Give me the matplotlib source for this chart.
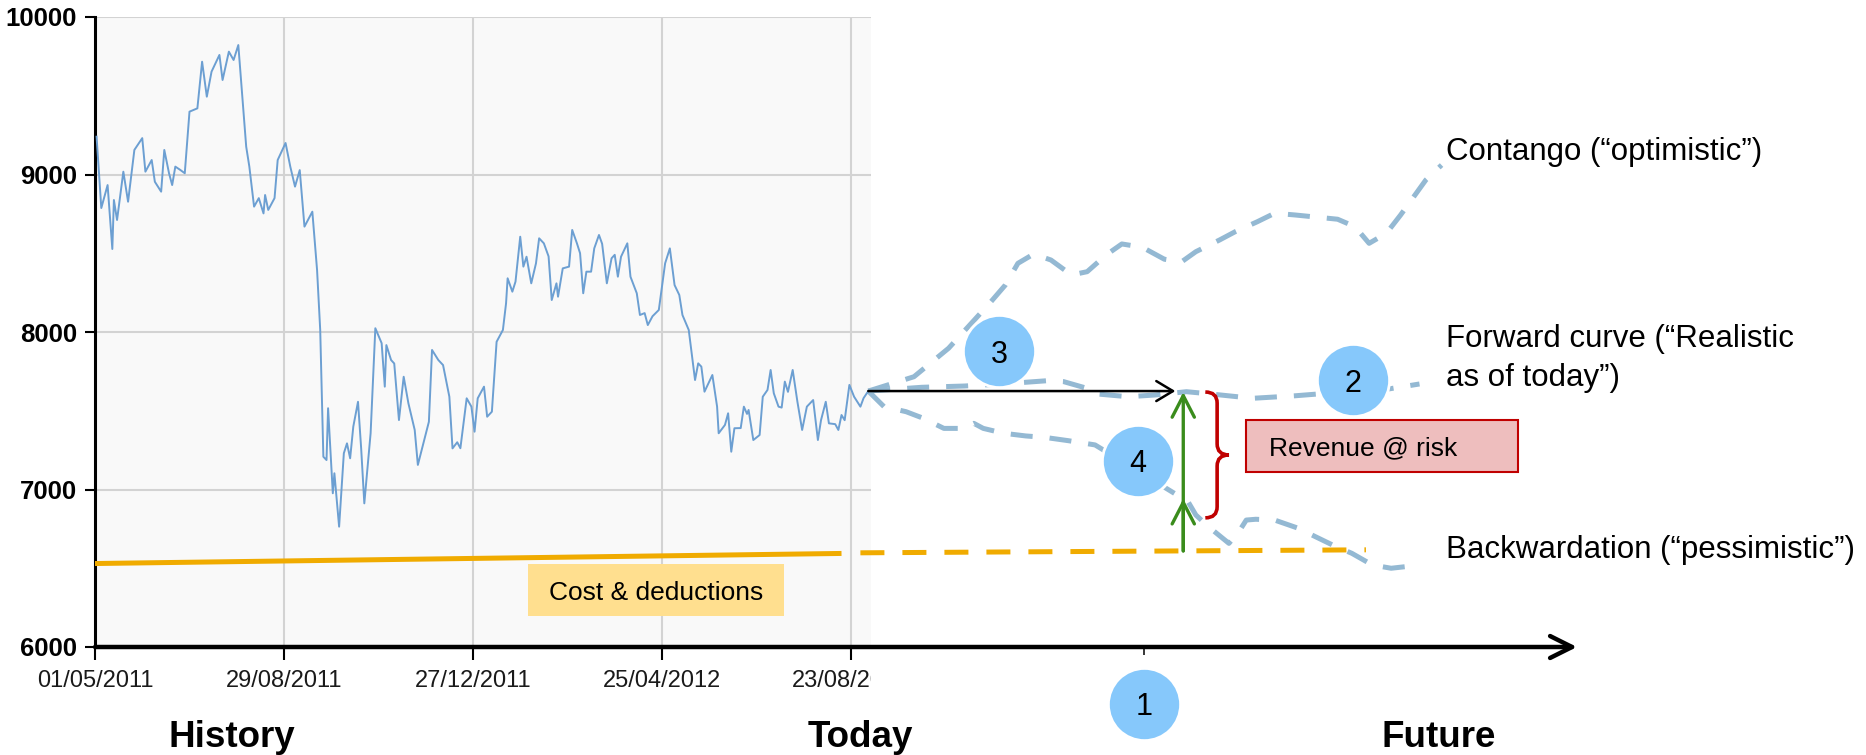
"""Copper spot price history with forward-curve scenarios and revenue at risk."""

import matplotlib

matplotlib.use("Agg")
import matplotlib.pyplot as plt
import numpy as np
import pandas as pd
from matplotlib import font_manager
from matplotlib.patches import PathPatch, Rectangle
from matplotlib.path import Path
from matplotlib.transforms import Bbox, TransformedBbox

START_DATE = pd.Timestamp("2011-05-01")

# spot price, days counted from START_DATE
HISTORY_DAY = [
    1, 4, 8, 11, 12, 14, 18, 21, 25, 30,
    32, 36, 38, 42, 44, 47, 49, 51, 54, 57,
    60, 65, 68, 71, 74, 79, 81, 85, 88, 91,
    96, 98, 101, 104, 107, 108, 110, 114, 116, 121,
    124, 127, 130, 133, 138, 141, 143, 145, 147, 148,
    151, 152, 155, 158, 160, 162, 164, 167, 169, 171,
    175, 178, 182, 184, 185, 188, 190, 193, 196, 199,
    203, 205, 212, 214, 218, 221, 225, 227, 230, 232,
    236, 239, 241, 243, 247, 249, 252, 255, 259, 261,
    262, 265, 267, 270, 272, 274, 277, 280, 282, 285,
    288, 290, 293, 294, 297, 301, 303, 306, 308, 310,
    312, 315, 317, 320, 322, 325, 328, 330, 332, 334,
    338, 340, 344, 346, 349, 351, 354, 358, 362, 365,
    368, 371, 373, 377, 381, 383, 385, 387, 392, 395,
    396, 400, 402, 404, 406, 410, 412, 414, 415, 418,
    422, 424, 427, 429, 431, 434, 436, 438, 440, 443,
    446, 449, 452, 456, 459, 461, 464, 466, 470, 472,
    474, 476, 479, 482, 486, 488, 491,
]
HISTORY_PRICE = [
    9240, 8787, 8933, 8527, 8838, 8711, 9018, 8827, 9156, 9231,
    9018, 9092, 8954, 8891, 9156, 9008, 8933, 9050, 9030, 9008,
    9399, 9420, 9716, 9494, 9653, 9759, 9600, 9780, 9727, 9822,
    9177, 9050, 8796, 8850, 8753, 8870, 8775, 8850, 9092, 9200,
    9050, 8923, 9028, 8669, 8764, 8394, 8013, 7208, 7187, 7516,
    6976, 7103, 6764, 7230, 7293, 7198, 7399, 7557, 7261, 6912,
    7357, 8024, 7929, 7653, 7917, 7822, 7800, 7441, 7716, 7547,
    7378, 7156, 7430, 7886, 7822, 7790, 7589, 7261, 7300, 7262,
    7579, 7526, 7367, 7579, 7653, 7462, 7494, 7938, 8013, 8182,
    8341, 8256, 8320, 8605, 8415, 8478, 8309, 8436, 8595, 8563,
    8480, 8203, 8309, 8224, 8404, 8415, 8648, 8563, 8500, 8246,
    8383, 8383, 8531, 8616, 8560, 8309, 8468, 8490, 8351, 8478,
    8563, 8351, 8246, 8108, 8120, 8044, 8100, 8140, 8436, 8531,
    8298, 8235, 8108, 8013, 7695, 7801, 7780, 7621, 7727, 7526,
    7357, 7410, 7484, 7240, 7389, 7390, 7526, 7480, 7505, 7314,
    7346, 7589, 7632, 7759, 7611, 7526, 7520, 7685, 7620, 7759,
    7557, 7378, 7526, 7568, 7314, 7441, 7557, 7420, 7415, 7378,
    7473, 7440, 7664, 7589, 7526, 7580, 7625,
]

# cost & deductions level: realised, then outlook
COST_HIST_DAY = [0, 474]
COST_HIST_PRICE = [6530, 6594]
COST_FWD_DAY = [486, 807]
COST_FWD_PRICE = [6598, 6617]

# forward scenarios from today
CONTANGO_DAY = [491, 520, 542, 568, 578, 586, 596, 607, 620, 630, 642, 652, 665,
                679, 690, 699, 714, 724, 738, 749, 762, 789, 800, 809, 820, 829,
                845, 855]
CONTANGO_PRICE = [7625, 7716, 7897, 8182, 8298, 8436, 8495, 8457, 8362, 8383, 8489,
                  8559, 8538, 8462, 8446, 8510, 8584, 8637, 8700, 8754, 8743, 8716,
                  8669, 8563, 8627, 8743, 8965, 9060]
FORWARD_DAY = [491, 525, 552, 576, 605, 615, 630, 637, 656, 673, 693, 709, 735,
               762, 795, 820, 841]
FORWARD_PRICE = [7625, 7649, 7657, 7670, 7691, 7685, 7642, 7606, 7589, 7600, 7621,
                 7606, 7579, 7595, 7621, 7636, 7670]
BACKWARD_DAY = [491, 501, 515, 526, 539, 551, 558, 564, 577, 591, 603, 618, 635,
                694, 699, 707, 720, 727, 731, 737, 749, 764, 775, 788, 798, 811,
                823, 832]
BACKWARD_PRICE = [7625, 7526, 7494, 7452, 7388, 7388, 7420, 7388, 7357, 7340, 7331,
                  7310, 7283, 6923, 6838, 6764, 6658, 6743, 6806, 6811, 6806, 6754,
                  6700, 6637, 6595, 6521, 6500, 6510]

Y_TICKS = [6000, 7000, 8000, 9000, 10000]
DATE_TICK_DAY = [0, 120, 240, 360, 480]

TODAY_DAY = 491
TODAY_PRICE = 7625
PLOT_END_DAY = 493
HORIZON_DAY = 691
HORIZON_TICK_DAY = 666
RISK_LOW_PRICE = 6820
X_MAX = 941

BLUE_LINE = "#6C9FD2"
SCENARIO = "#94B9D3"
ORANGE = "#F0AB00"
CIRCLE = "#86C8FB"
GREEN = "#3A8C1C"
RED = "#C00000"

_installed = {f.name for f in font_manager.fontManager.ttflist}
if "Liberation Sans Narrow" in _installed:
    TICK_FAMILY, YTICK_SIZE, XTICK_SIZE = "Liberation Sans Narrow", 21, 19.5
else:
    TICK_FAMILY, YTICK_SIZE, XTICK_SIZE = "Liberation Sans", 18.5, 17

plt.rcParams["font.family"] = ["Liberation Sans", "DejaVu Sans"]


def brace_path(x_hook, x_spine, x_tip, top, bottom, hook):
    """Right-pointing curly brace between two price levels."""
    mid = (top + bottom) / 2
    verts = [
        (x_hook, top), (x_spine, top), (x_spine, top - hook),
        (x_spine, mid + hook),
        (x_spine, mid), (x_tip, mid),
        (x_spine, mid), (x_spine, mid - hook),
        (x_spine, bottom + hook),
        (x_spine, bottom), (x_hook, bottom),
    ]
    codes = [Path.MOVETO, Path.CURVE3, Path.CURVE3, Path.LINETO,
             Path.CURVE3, Path.CURVE3, Path.CURVE3, Path.CURVE3,
             Path.LINETO, Path.CURVE3, Path.CURVE3]
    return Path(verts, codes)


fig = plt.figure(figsize=(18.66, 7.55), dpi=100)
ax = fig.add_axes([95 / 1866, 108 / 755, 1482 / 1866, 630 / 755])
ax.set_xlim(0, X_MAX)
ax.set_ylim(Y_TICKS[0], Y_TICKS[-1])

for side in ("top", "right", "bottom"):
    ax.spines[side].set_visible(False)
ax.spines["left"].set_linewidth(2.2)

# history panel background and grid
ax.axvspan(0, PLOT_END_DAY, color="#f9f9f9", zorder=0, lw=0)
ax.hlines(Y_TICKS[1:], 0, PLOT_END_DAY, color="#d3d3d3", lw=1.5, zorder=1)
ax.vlines(DATE_TICK_DAY[1:], Y_TICKS[0], Y_TICKS[-1], color="#d3d3d3", lw=1.5, zorder=1)

ax.plot(HISTORY_DAY, HISTORY_PRICE, color=BLUE_LINE, lw=1.4, zorder=3)

ax.plot(COST_HIST_DAY, COST_HIST_PRICE, color=ORANGE, lw=3.6,
        solid_capstyle="butt", zorder=3)
ax.plot(COST_FWD_DAY, COST_FWD_PRICE, color=ORANGE, lw=3.6,
        ls=(0, (4.8, 3.6)), zorder=3)

for days, prices in ((CONTANGO_DAY, CONTANGO_PRICE),
                     (FORWARD_DAY, FORWARD_PRICE),
                     (BACKWARD_DAY, BACKWARD_PRICE)):
    ax.plot(days, prices, color=SCENARIO, lw=3.6, ls=(0, (4.4, 3.4)), zorder=2)

# time axis with arrow head
ax.annotate("", xy=(X_MAX, Y_TICKS[0]), xytext=(0, Y_TICKS[0]),
            arrowprops=dict(arrowstyle="->,head_length=1.58,head_width=0.79",
                            lw=3.2, color="black", shrinkA=0, shrinkB=0,
                            mutation_scale=10),
            annotation_clip=False, zorder=5)

ax.set_yticks(Y_TICKS)
ax.set_yticklabels([str(v) for v in Y_TICKS], fontfamily=TICK_FAMILY,
                   fontsize=YTICK_SIZE, fontweight="bold")
ax.tick_params(axis="y", direction="out", length=7.2, width=1.5, pad=5.8)

date_labels = (START_DATE + pd.to_timedelta(DATE_TICK_DAY, unit="D")).strftime("%d/%m/%Y")
ax.set_xticks(DATE_TICK_DAY, labels=list(date_labels), fontfamily=TICK_FAMILY,
              fontsize=XTICK_SIZE, color="#1a1a1a")
ax.set_xticks([HORIZON_TICK_DAY], minor=True)
ax.tick_params(axis="x", which="major", direction="out", length=9.4, width=1.5, pad=7)
ax.tick_params(axis="x", which="minor", direction="out", length=5.8, width=1.1)

# date labels end where the history panel stops
label_clip = TransformedBbox(Bbox([[-200, 0], [PLOT_END_DAY, 12000]]), ax.transData)
for lbl in ax.get_xticklabels():
    lbl.set_clip_box(label_clip)
    lbl.set_clip_on(True)

# horizon: time arrow, margin arrows, revenue-at-risk brace
cost_h = np.interp(HORIZON_DAY, COST_FWD_DAY, COST_FWD_PRICE)
fwd_h = np.interp(HORIZON_DAY, FORWARD_DAY, FORWARD_PRICE)
back_h = np.interp(HORIZON_DAY, BACKWARD_DAY, BACKWARD_PRICE)

ax.annotate("", xy=(HORIZON_DAY - 5, TODAY_PRICE), xytext=(TODAY_DAY, TODAY_PRICE),
            arrowprops=dict(arrowstyle="->,head_length=1.2,head_width=0.72",
                            lw=1.8, color="black", shrinkA=0, shrinkB=0,
                            mutation_scale=10), zorder=8)
for target in (fwd_h, back_h):
    ax.annotate("", xy=(HORIZON_DAY, target), xytext=(HORIZON_DAY, cost_h),
                arrowprops=dict(arrowstyle="->,head_length=1.55,head_width=0.8",
                                lw=2.4, color=GREEN, shrinkA=0, shrinkB=0,
                                mutation_scale=10), zorder=8)

ax.add_patch(PathPatch(brace_path(705, 712.5, 720, fwd_h, RISK_LOW_PRICE, 70),
                       facecolor="none", edgecolor=RED, lw=2.6, zorder=4))

ax.add_patch(Rectangle((731, 7111), 172.5, 330, facecolor="#EEBEBE",
                       edgecolor=RED, lw=1.5, zorder=4))
ax.text(745.5, 7276, "Revenue @ risk", fontsize=19, ha="left",
        va="center_baseline", zorder=5)

ax.add_patch(Rectangle((275, 6197), 162.5, 330, facecolor="#FFDF8F",
                       edgecolor="none", zorder=4))
ax.text(356, 6359, "Cost & deductions", fontsize=19, ha="center",
        va="center_baseline", zorder=5)

# numbered call-outs
for num, day, price in (("1", HORIZON_TICK_DAY, 5640), ("2", 799, 7695),
                        ("3", 574, 7879), ("4", 662, 7184)):
    ax.scatter([day], [price], s=2700, color=CIRCLE, edgecolors="white",
               linewidths=2, zorder=6, clip_on=False)
    ax.text(day, price, num, fontsize=22, ha="center", va="center_baseline",
            zorder=7, clip_on=False)

# scenario names
ax.text(858, 9092, "Contango (\u201coptimistic\u201d)", fontsize=22.5,
        ha="left", va="baseline")
ax.text(858, 8051, "Forward curve (\u201cRealistic\nas of today\u201d)", fontsize=22.5,
        ha="left", va="top", linespacing=1.39)
ax.text(858, 6563, "Backwardation (\u201cpessimistic\u201d)", fontsize=22.5,
        ha="left", va="baseline")

xaxis_tf = ax.get_xaxis_transform()
for name, day in (("History", 87), ("Today", 486), ("Future", 853)):
    ax.text(day, -0.1587, name, transform=xaxis_tf, fontsize=26.5,
            fontweight="bold", ha="center", va="baseline")

fig.savefig("out.png", dpi=100)
